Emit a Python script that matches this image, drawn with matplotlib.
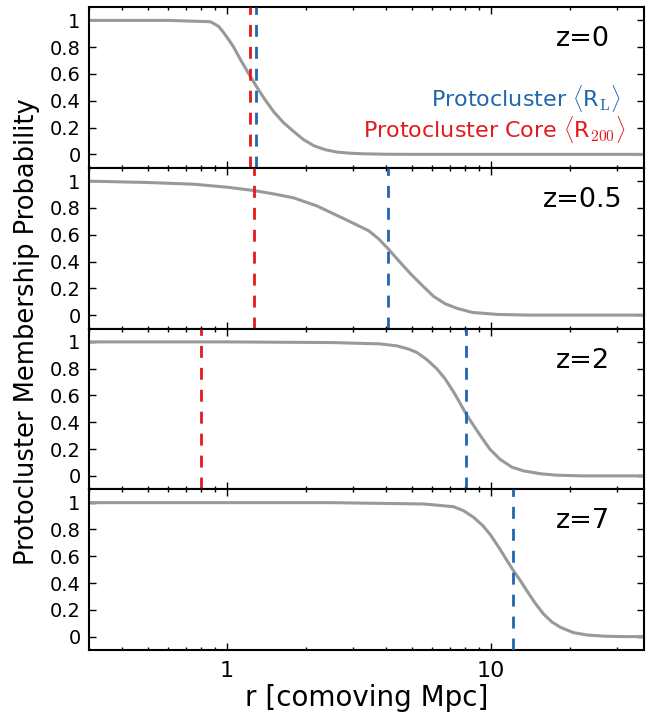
import numpy as np
import matplotlib
matplotlib.use("Agg")
import matplotlib.pyplot as plt
from matplotlib.ticker import FixedLocator, FixedFormatter, LogLocator, NullFormatter

plt.rcParams['mathtext.fontset'] = 'cm'

# ---- data ----
redshifts = ["z=0", "z=0.5", "z=2", "z=7"]

r_z0 = [0.30, 0.60, 0.866, 0.93, 0.97, 1.02, 1.06, 1.13, 1.21, 1.29, 1.38, 1.50, 1.63,
        1.79, 1.95, 2.13, 2.35, 2.61, 2.95, 3.30, 4.0, 5.0, 10.0, 40.0]
p_z0 = [1.00, 1.00, 0.99, 0.955, 0.91, 0.85, 0.80, 0.70, 0.60, 0.51, 0.42, 0.32, 0.24,
        0.17, 0.11, 0.065, 0.035, 0.017, 0.008, 0.004, 0.001, 0.0, 0.0, 0.0]

r_z05 = [0.30, 0.50, 0.75, 1.00, 1.26, 1.50, 1.79, 2.19, 2.77, 3.44, 3.75, 4.10, 4.50,
         4.95, 5.50, 6.06, 6.70, 7.45, 8.50, 10.6, 14.0, 40.0]
p_z05 = [1.00, 0.99, 0.977, 0.955, 0.93, 0.905, 0.875, 0.815, 0.72, 0.63, 0.57, 0.49, 0.40,
         0.31, 0.22, 0.14, 0.085, 0.05, 0.02, 0.005, 0.0, 0.0]

r_z2 = [0.30, 1.0, 2.5, 3.81, 4.41, 4.90, 5.25, 5.70, 6.23, 6.70, 7.20, 7.60, 8.06, 8.60,
        9.12, 9.90, 10.8, 12.0, 13.3, 15.5, 17.8, 22.0, 40.0]
p_z2 = [1.00, 1.00, 0.995, 0.985, 0.97, 0.945, 0.92, 0.87, 0.80, 0.725, 0.63, 0.55, 0.46, 0.375,
        0.30, 0.20, 0.125, 0.065, 0.037, 0.015, 0.005, 0.0, 0.0]

r_z7 = [0.30, 1.0, 2.46, 5.56, 7.20, 7.87, 8.60, 9.30, 9.95, 10.8, 11.4, 12.1, 12.9, 13.7,
        14.7, 15.8, 17.0, 18.3, 20.5, 23.1, 27.0, 32.0, 40.0]
p_z7 = [1.00, 1.00, 1.00, 0.99, 0.97, 0.94, 0.89, 0.83, 0.76, 0.655, 0.58, 0.50, 0.42, 0.34,
        0.25, 0.17, 0.11, 0.07, 0.03, 0.012, 0.003, 0.0, 0.0]

R_L = [1.29, 4.08, 8.05, 12.1]        # protocluster <R_L>
R_200 = [1.22, 1.27, 0.80, None]      # protocluster core <R_200>

curves_r = [r_z0, r_z05, r_z2, r_z7]
curves_p = [p_z0, p_z05, p_z2, p_z7]

ytick_vals = [0, 0.2, 0.4, 0.6, 0.8, 1.0]
ytick_labels = ["0", "0.2", "0.4", "0.6", "0.8", "1"]
xtick_vals = [1, 10]
xtick_labels = ["1", "10"]

# ---- style ----
gray = "#999999"
blue = "#2166ac"
red = "#e31a1c"

fig = plt.figure(figsize=(6.47, 7.22), dpi=100)
left, right = 89 / 647, 644 / 647
top, bottom = 1 - 7 / 722, 1 - 650 / 722
axes = []
n = 4
h = (top - bottom) / n
for i in range(n):
    ax = fig.add_axes([left, top - (i + 1) * h, right - left, h])
    axes.append(ax)

for i, ax in enumerate(axes):
    ax.plot(curves_r[i], curves_p[i], color=gray, lw=2.2, zorder=2)
    ax.axvline(R_L[i], color=blue, lw=2, linestyle=(0, (4.3, 3.6)), zorder=3)
    if R_200[i] is not None:
        ax.axvline(R_200[i], color=red, lw=2, linestyle=(0, (4.3, 3.6)), zorder=3)
    ax.set_xscale('log')
    ax.set_xlim(0.30, 38)
    ax.set_ylim(-0.1, 1.1)
    ax.yaxis.set_major_locator(FixedLocator(ytick_vals))
    ax.yaxis.set_major_formatter(FixedFormatter(ytick_labels))
    ax.xaxis.set_major_locator(FixedLocator(xtick_vals))
    ax.xaxis.set_minor_locator(LogLocator(base=10, subs=np.arange(2, 10)))
    ax.xaxis.set_minor_formatter(NullFormatter())
    if i == n - 1:
        ax.xaxis.set_major_formatter(FixedFormatter(xtick_labels))
    else:
        ax.xaxis.set_major_formatter(NullFormatter())
    ax.tick_params(which='both', direction='in', top=True, right=True, width=1)
    ax.tick_params(which='major', length=5)
    ax.tick_params(which='minor', length=2.5)
    ax.tick_params(axis='y', labelsize=14, pad=6)
    ax.tick_params(axis='x', labelsize=16, pad=8)
    for s in ax.spines.values():
        s.set_linewidth(1.5)
    ax.text(0.89, 0.80, redshifts[i], transform=ax.transAxes, ha='center', va='center',
            fontsize=19.5)

axes[0].text(0.958, 0.43, r"Protocluster $\langle$R$_{\rm L}\rangle$", color=blue,
             transform=axes[0].transAxes, ha='right', va='center', fontsize=16)
axes[0].text(0.967, 0.235, r"Protocluster Core $\langle$R$_{200}\rangle$", color=red,
             transform=axes[0].transAxes, ha='right', va='center', fontsize=16)

axes[-1].set_xlabel("r [comoving Mpc]", fontsize=20, labelpad=2)
fig.text(0.041, (top + bottom) / 2 - 0.004, "Protocluster Membership Probability", rotation=90,
         ha='center', va='center', fontsize=18.5)

fig.savefig("out.png", dpi=100)
